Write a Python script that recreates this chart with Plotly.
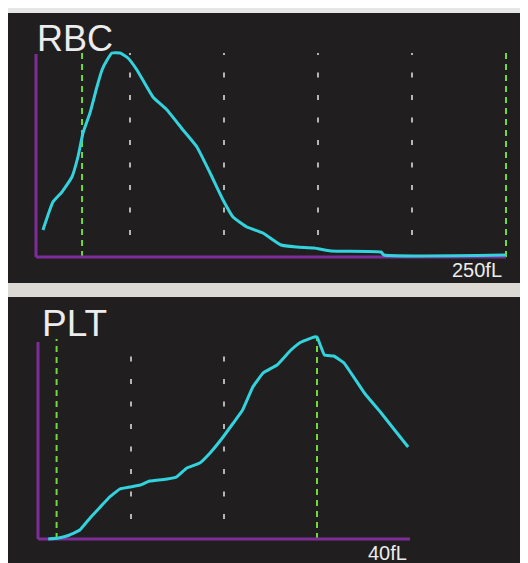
import plotly.graph_objects as go

# ---------------- data ----------------
rbc_fl = [3.7, 9.0, 13.8, 19.1, 22.3, 25.0, 28.7, 32.4, 35.1, 37.8, 40.4, 44.7, 48.9, 53.7,
          62.2, 69.7, 78.2, 85.6, 92.6, 99.5, 104.8, 112.2, 120.7, 130.3, 138.8, 147.9,
          156.9, 183.5, 185.1, 250.0]
rbc_count = [27, 55, 65, 80, 100, 124, 144, 170, 187, 197, 204, 204, 199, 187,
             160, 147, 127, 110, 84, 57, 40, 30, 24, 12, 10, 9,
             6, 5, 2, 2]

plt_fl = [1.1, 2.2, 3.4, 4.5, 5.6, 6.7, 7.7, 8.8, 9.9, 11.0, 12.0, 13.9, 14.9, 16.0,
          17.4, 18.5, 19.9, 21.0, 22.0, 23.1, 24.2, 25.7, 27.2, 28.3, 29.7, 30.0,
          30.8, 31.8, 32.9, 35.1, 36.9, 38.6, 39.8]
plt_count = [0, 1, 4, 9, 21, 32, 42, 50, 52, 54, 58, 60, 62, 71,
             76, 86, 102, 116, 129, 152, 166, 174, 189, 197, 202, 202,
             184, 183, 176, 146, 126, 106, 92]

rbc_grid = [50, 100, 150, 200]
rbc_marks = [24.5, 250]
plt_grid = [10, 20]
plt_marks = [2, 30]

rbc_title, plt_title = "RBC", "PLT"
rbc_unit, plt_unit = "250fL", "40fL"

# ---------------- layout helpers ----------------
OFF = 8                      # page body margin of the browser
W, H = 528 - OFF, 563 - OFF  # figure size in px
DARK = "#201e1f"
LIGHT = "#dcd9d5"
PURPLE = "#7e2c99"
CYAN = "#33d3de"
GREEN = "#72d83c"
GRAY = "#b4b4b4"


def px(x):
    return (x - OFF) / W


def py(y):
    return 1 - (y - OFF) / H


def xdom(px0, sx, rng):
    return [px(px0 + rng[0] * sx), px(px0 + rng[1] * sx)]


def ydom(py0, sy, rng):
    return [py(py0 - rng[0] * sy), py(py0 - rng[1] * sy)]


rbc_xr, rbc_yr = [-4, 256], [-6, 214]
plt_xr, plt_yr = [-1, 41], [-6, 212]

fig = go.Figure()
fig.add_trace(go.Scatter(x=rbc_fl, y=rbc_count, mode="lines", xaxis="x", yaxis="y",
                         line=dict(color=CYAN, width=3, shape="spline", smoothing=0.4),
                         showlegend=False))
fig.add_trace(go.Scatter(x=plt_fl, y=plt_count, mode="lines", xaxis="x2", yaxis="y2",
                         line=dict(color=CYAN, width=3, shape="spline", smoothing=0.3),
                         showlegend=False))

ax = dict(showgrid=False, zeroline=False, showticklabels=False, ticks="", showline=False, fixedrange=True)

shapes = [
    # top white/grey band above the first screen
    dict(type="rect", xref="paper", yref="paper", x0=0, x1=1, y0=py(13), y1=1,
         fillcolor="#e6e6e6", line=dict(width=0), layer="below"),
    # panels
    dict(type="rect", xref="paper", yref="paper", x0=0, x1=1, y0=py(283), y1=py(13),
         fillcolor=DARK, line=dict(width=0), layer="below"),
    dict(type="rect", xref="paper", yref="paper", x0=0, x1=1, y0=0, y1=py(297),
         fillcolor=DARK, line=dict(width=0), layer="below"),
]

# RBC grid
for g in rbc_grid:
    shapes.append(dict(type="line", xref="x", yref="y", x0=g, x1=g, y0=22, y1=204,
                       line=dict(color=GRAY, width=2, dash="5px,17.5px"), layer="below"))
for g in rbc_marks:
    shapes.append(dict(type="line", xref="x", yref="y", x0=g, x1=g, y0=0, y1=205,
                       line=dict(color=GREEN, width=2, dash="6px,5px"), layer="below"))
# PLT grid
for g in plt_grid:
    shapes.append(dict(type="line", xref="x2", yref="y2", x0=g, x1=g, y0=20, y1=197,
                       line=dict(color=GRAY, width=2, dash="5px,17.5px"), layer="below"))
for g in plt_marks:
    shapes.append(dict(type="line", xref="x2", yref="y2", x0=g, x1=g, y0=0, y1=200 if g < 10 else 202,
                       line=dict(color=GREEN, width=2, dash="6px,5px"), layer="below"))

# purple axes
shapes += [
    dict(type="line", xref="x", yref="y", x0=0, x1=0, y0=0, y1=203, line=dict(color=PURPLE, width=3), layer="below"),
    dict(type="line", xref="x", yref="y", x0=0, x1=250, y0=0, y1=0, line=dict(color=PURPLE, width=3), layer="below"),
    dict(type="line", xref="x2", yref="y2", x0=0, x1=0, y0=0, y1=197, line=dict(color=PURPLE, width=3), layer="below"),
    dict(type="line", xref="x2", yref="y2", x0=0, x1=40, y0=0, y1=0, line=dict(color=PURPLE, width=3), layer="below"),
]

txt = "#ececec"
font = "Liberation Sans, Arial, sans-serif"
annotations = [
    dict(text=rbc_title, xref="paper", yref="paper", x=px(75), y=py(38), showarrow=False,
         font=dict(family=font, size=36, color=txt), xanchor="center", yanchor="middle"),
    dict(text=plt_title, xref="paper", yref="paper", x=px(74), y=py(323), showarrow=False,
         font=dict(family=font, size=37, color=txt), xanchor="center", yanchor="middle"),
    dict(text=rbc_unit, xref="paper", yref="paper", x=px(477), y=py(270), showarrow=False,
         font=dict(family=font, size=20, color=txt), xanchor="center", yanchor="middle"),
    dict(text=plt_unit, xref="paper", yref="paper", x=px(387), y=0, showarrow=False,
         font=dict(family=font, size=20, color=txt), xanchor="center", yanchor="bottom",
         borderpad=0, yshift=-2),
]

fig.update_layout(
    width=W, height=H,
    margin=dict(l=0, r=0, t=0, b=0),
    paper_bgcolor=LIGHT,
    plot_bgcolor="rgba(0,0,0,0)",
    xaxis=dict(ax, domain=xdom(36, 470 / 250, rbc_xr), range=rbc_xr, anchor="y"),
    yaxis=dict(ax, domain=ydom(257, 1, rbc_yr), range=rbc_yr, anchor="x"),
    xaxis2=dict(ax, domain=xdom(38, 372 / 40, plt_xr), range=plt_xr, anchor="y2"),
    yaxis2=dict(ax, domain=ydom(539, 1, plt_yr), range=plt_yr, anchor="x2"),
    shapes=shapes,
    annotations=annotations,
)

fig.write_html("out.html", config={"displayModeBar": False})
